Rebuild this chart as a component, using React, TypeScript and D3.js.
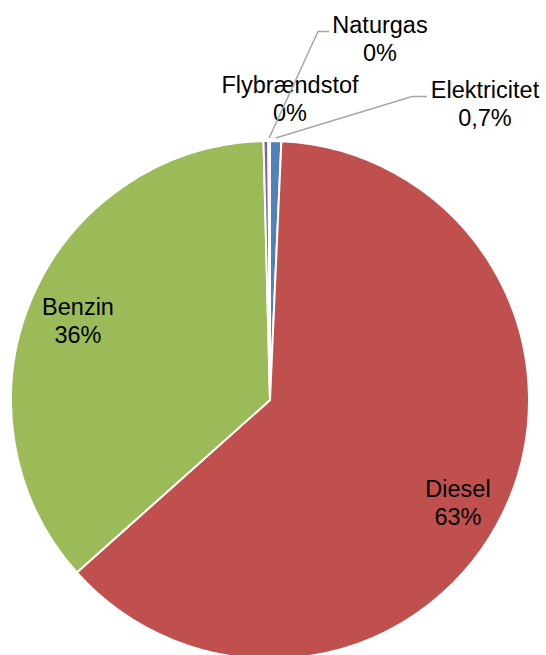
import React from 'react'
import * as d3 from 'd3'

// data, clockwise from 12 o'clock as in the source sheet
const categories = ['Elektricitet', 'Diesel', 'Benzin', 'Flybrændstof', 'Naturgas']
const shares = [0.7, 62.7, 36.2, 0.3, 0.1]
const shareLabels = ['0,7%', '63%', '36%', '0%', '0%']
const colors = ['#4F81BD', '#C0504D', '#9BBB59', '#8064A2', '#4BACC6']

// label placement: text centre x and first baseline y, relative to the pie centre
const labelOffsets: Record<string, [number, number]> = {
  Elektricitet: [215, -302],
  Diesel: [188, 97],
  Benzin: [-192, -85],
  Flybrændstof: [20, -307],
  Naturgas: [110, -367],
}
// leader lines: length of the short horizontal piece next to the label
const leaders: Record<string, number> = { Elektricitet: 15, Naturgas: 11 }

export default function App() {
  const width = 546
  const height = 655
  const cx = 270
  const cy = 400
  const r = 259
  const fontSize = 23.5
  const lineH = 27.5

  const rows = categories.map((c, i) => ({ name: c, value: shares[i], label: shareLabels[i], color: colors[i] }))
  const pie = d3.pie<any>().sort(null).value(d => d.value)
  const arcs = pie(rows)
  const arc = d3.arc<any>().innerRadius(0).outerRadius(r)

  return (
    <svg
      width={width}
      height={height}
      style={{ position: 'absolute', left: 0, top: 0, background: '#fff' }}
      fontFamily="'Liberation Sans', Arial, sans-serif"
    >
      <g transform={`translate(${cx},${cy})`}>
        {arcs.map((a, i) => (
          <path key={i} d={arc(a) || ''} fill={a.data.color} stroke="#fff" strokeWidth={2} strokeLinejoin="round" />
        ))}
        {arcs.map((a, i) => {
          const name = a.data.name
          const [lx, ly] = labelOffsets[name]
          let leader = null
          if (leaders[name]) {
            const mid = (a.startAngle + a.endAngle) / 2
            const ex = Math.sin(mid) * (r + 3)
            const ey = -Math.cos(mid) * (r + 3)
            const hy = ly - 1.5
            const tw = name === 'Naturgas' ? 96 : 110
            const hx1 = lx - tw / 2 - 3
            const hx0 = hx1 - leaders[name]
            leader = (
              <polyline
                points={`${ex},${ey} ${hx0},${hy} ${hx1},${hy}`}
                fill="none"
                stroke="#A6A6A6"
                strokeWidth={1.5}
              />
            )
          }
          return (
            <g key={'l' + i}>
              {leader}
              <text x={lx} y={ly} textAnchor="middle" fontSize={fontSize} fill="#000">
                {name}
              </text>
              <text x={lx} y={ly + lineH} textAnchor="middle" fontSize={fontSize} fill="#000">
                {a.data.label}
              </text>
            </g>
          )
        })}
      </g>
    </svg>
  )
}
